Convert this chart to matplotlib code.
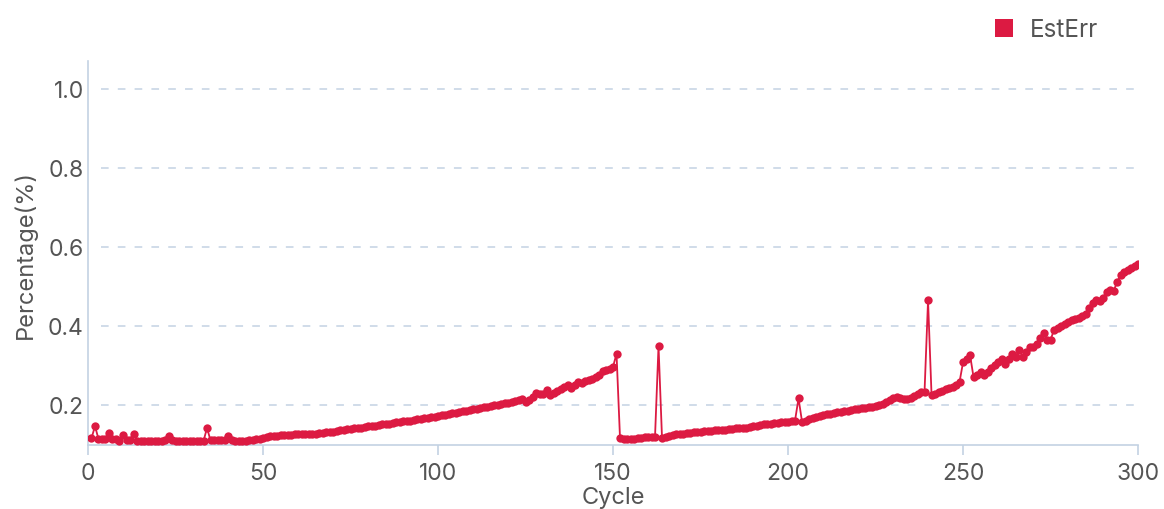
import numpy as np
import matplotlib
matplotlib.use("Agg")
import matplotlib.pyplot as plt
from matplotlib.lines import Line2D

# EstErr per cycle (cycles 1..300)
cycles = list(range(1, 301))
est_err = [
    0.115, 0.146, 0.113, 0.113, 0.113, 0.128, 0.113, 0.113, 0.109, 0.123,
    0.110, 0.111, 0.127, 0.109, 0.108, 0.108, 0.108, 0.108, 0.108, 0.108,
    0.108, 0.110, 0.122, 0.110, 0.108, 0.108, 0.108, 0.108, 0.108, 0.108,
    0.108, 0.108, 0.108, 0.141, 0.110, 0.110, 0.110, 0.110, 0.110, 0.122,
    0.110, 0.109, 0.109, 0.109, 0.109, 0.110, 0.111, 0.112, 0.114, 0.116,
    0.119, 0.120, 0.121, 0.122, 0.123, 0.123, 0.124, 0.124, 0.125, 0.125,
    0.125, 0.126, 0.126, 0.127, 0.127, 0.128, 0.129, 0.130, 0.131, 0.132,
    0.134, 0.135, 0.136, 0.138, 0.139, 0.140, 0.141, 0.142, 0.144, 0.145,
    0.146, 0.147, 0.149, 0.150, 0.151, 0.152, 0.154, 0.155, 0.156, 0.158,
    0.159, 0.160, 0.162, 0.163, 0.165, 0.166, 0.167, 0.169, 0.170, 0.172,
    0.173, 0.175, 0.176, 0.178, 0.180, 0.182, 0.183, 0.185, 0.187, 0.188,
    0.190, 0.192, 0.194, 0.195, 0.197, 0.199, 0.200, 0.202, 0.204, 0.205,
    0.207, 0.209, 0.211, 0.214, 0.208, 0.213, 0.220, 0.229, 0.228, 0.226,
    0.237, 0.225, 0.230, 0.235, 0.240, 0.246, 0.250, 0.243, 0.250, 0.258,
    0.255, 0.260, 0.263, 0.266, 0.270, 0.275, 0.286, 0.288, 0.290, 0.296,
    0.329, 0.115, 0.112, 0.112, 0.113, 0.114, 0.115, 0.116, 0.117, 0.118,
    0.119, 0.119, 0.349, 0.115, 0.118, 0.121, 0.123, 0.125, 0.126, 0.127,
    0.128, 0.129, 0.130, 0.131, 0.132, 0.133, 0.134, 0.134, 0.135, 0.136,
    0.137, 0.137, 0.138, 0.139, 0.140, 0.140, 0.141, 0.142, 0.143, 0.145,
    0.147, 0.148, 0.150, 0.151, 0.152, 0.153, 0.154, 0.155, 0.156, 0.157,
    0.158, 0.160, 0.216, 0.157, 0.160, 0.163, 0.166, 0.169, 0.172, 0.174,
    0.176, 0.177, 0.179, 0.181, 0.182, 0.184, 0.185, 0.187, 0.188, 0.190,
    0.191, 0.192, 0.194, 0.195, 0.197, 0.199, 0.202, 0.206, 0.211, 0.216,
    0.219, 0.217, 0.215, 0.214, 0.218, 0.223, 0.228, 0.231, 0.233, 0.464,
    0.225, 0.228, 0.232, 0.236, 0.240, 0.243, 0.246, 0.250, 0.258, 0.307,
    0.316, 0.326, 0.270, 0.276, 0.284, 0.276, 0.283, 0.292, 0.300, 0.308,
    0.316, 0.302, 0.315, 0.329, 0.320, 0.339, 0.322, 0.333, 0.347, 0.346,
    0.355, 0.368, 0.382, 0.363, 0.364, 0.390, 0.395, 0.400, 0.405, 0.410,
    0.415, 0.418, 0.420, 0.424, 0.430, 0.445, 0.458, 0.464, 0.462, 0.470,
    0.485, 0.491, 0.488, 0.510, 0.528, 0.536, 0.541, 0.546, 0.551, 0.556,
]
x_ticks = [0, 50, 100, 150, 200, 250, 300]
y_ticks = [0.2, 0.4, 0.6, 0.8, 1.0]

RED = "#dc1a42"
AXIS = "#c3d2e3"
TEXT = "#555555"

plt.rcParams["font.family"] = ["Inter", "DejaVu Sans"]

fig = plt.figure(figsize=(11.64, 5.10), dpi=100)
ax = fig.add_axes([0.0756, 0.1255, 0.9021, 0.7525])

ax.plot(cycles, est_err, color=RED, linewidth=1.3,
        marker="o", markersize=6.0, markeredgewidth=0, zorder=3)

ax.set_xlim(0, 300)
ax.set_ylim(0.098, 1.07)
ax.set_xticks(x_ticks)
ax.set_yticks(y_ticks)
ax.set_yticklabels([f"{v:.1f}" for v in y_ticks])

# dashed horizontal grid
for v in y_ticks:
    ax.axhline(v, xmin=0.012, xmax=1.0, color=AXIS, linestyle=(0, (5, 6)),
               linewidth=1.1, zorder=1)

for side in ["top", "right"]:
    ax.spines[side].set_visible(False)
for side in ["left", "bottom"]:
    ax.spines[side].set_color(AXIS)
    ax.spines[side].set_linewidth(1.2)

ax.tick_params(axis="x", colors=AXIS, length=7, width=1.2, labelsize=16.5,
               labelcolor=TEXT, pad=5)
ax.tick_params(axis="y", length=0, labelsize=16.5, labelcolor=TEXT, pad=3)

ax.set_xlabel("Cycle", fontsize=17, color=TEXT, labelpad=2)
ax.set_ylabel("Percentage(%)", fontsize=17, color=TEXT, labelpad=8)

handle = Line2D([], [], linestyle="none", marker="s", markersize=13,
                markerfacecolor=RED, markeredgewidth=0)
fig.legend([handle], ["EstErr"], loc="upper right",
           bbox_to_anchor=(0.962, 1.005), frameon=False, fontsize=17.5,
           handletextpad=0.05, labelcolor=TEXT)

fig.savefig("out.png", dpi=100)
